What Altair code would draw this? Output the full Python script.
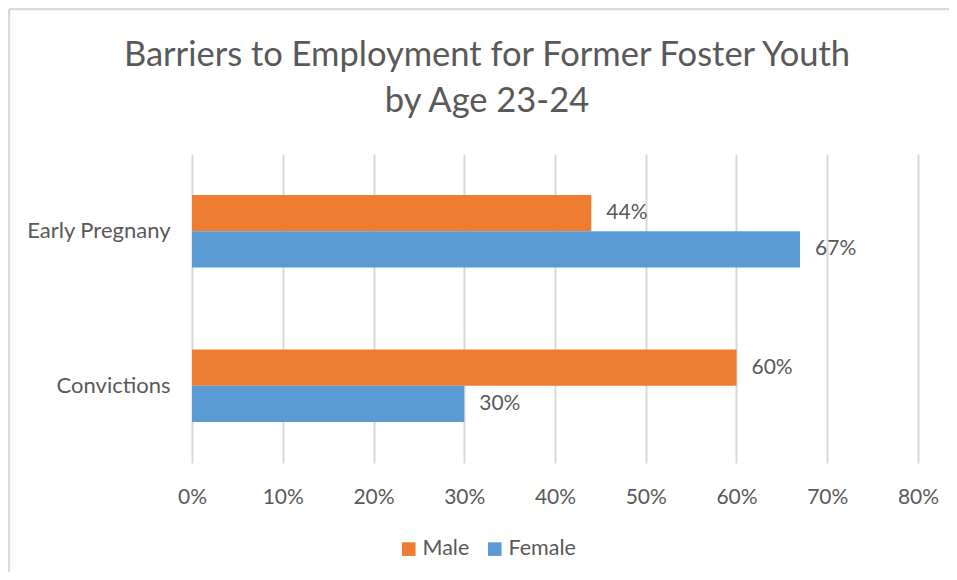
import altair as alt
import pandas as pd

categories = ["Early Pregnany", "Convictions"]
series = ["Male", "Female"]
male = [44, 60]
female = [67, 30]
x_ticks = [0, 0.1, 0.2, 0.3, 0.4, 0.5, 0.6, 0.7, 0.8]
colors = ["#ED7D31", "#5B9BD5"]

rows = []
for i, c in enumerate(categories):
    rows.append({"category": c, "series": "Male", "value": male[i] / 100})
    rows.append({"category": c, "series": "Female", "value": female[i] / 100})
df = pd.DataFrame(rows)

FONT = "Lato"
GRAY = "#595959"

y_enc = alt.Y(
    "category:N",
    sort=categories,
    title=None,
    scale=alt.Scale(paddingInner=0.53, paddingOuter=0.265),
    axis=alt.Axis(
        domain=False, ticks=False, grid=False, labelFontSize=22, labelFont=FONT,
        labelColor=GRAY, labelPadding=22,
    ),
)
yoff_enc = alt.YOffset("series:N", sort=series, scale=alt.Scale(paddingInner=0, paddingOuter=0))
x_enc = alt.X(
    "value:Q",
    title=None,
    scale=alt.Scale(domain=[0, 0.8], nice=False),
    axis=alt.Axis(
        values=x_ticks, format=".0%", domain=False, ticks=False, grid=True,
        gridColor="#d9d9d9", gridWidth=2, labelFontSize=21, labelFont=FONT,
        labelColor=GRAY, labelPadding=23, labelFlush=False,
    ),
)

base = alt.Chart(df)

bars = base.mark_bar().encode(
    y=y_enc,
    yOffset=yoff_enc,
    x=x_enc,
    color=alt.Color(
        "series:N",
        sort=series,
        scale=alt.Scale(domain=series, range=colors),
        legend=alt.Legend(
            title=None, orient="none", legendX=206, legendY=384, direction="horizontal",
            symbolType="square", symbolSize=185, symbolStrokeWidth=0,
            labelFontSize=21.5, labelFont=FONT, labelColor=GRAY, labelOffset=3,
            columnPadding=14,
        ),
    ),
)

labels = base.mark_text(align="left", baseline="middle", dx=15, fontSize=21, font=FONT, color=GRAY).encode(
    y=alt.Y("category:N", sort=categories),
    yOffset=alt.YOffset("series:N", sort=series),
    x="value:Q",
    text=alt.Text("value:Q", format=".0%"),
)

frame_data = alt.Data(values=[{"k": 1}])
left_border = alt.Chart(frame_data).mark_rule(color="#d9d9d9", strokeWidth=2.5).encode(
    x=alt.value(-183), y=alt.value(-145), y2=alt.value(420)
)
top_border = alt.Chart(frame_data).mark_rule(color="#d9d9d9", strokeWidth=2.5).encode(
    y=alt.value(-145), x=alt.value(-183), x2=alt.value(760)
)

chart = alt.layer(bars, labels, left_border, top_border).properties(
    width=726,
    height=309,
    autosize=alt.AutoSizeParams(type="none"),
    padding={"left": 184, "top": 146, "right": 31, "bottom": 109},
    title=alt.Title(
        ["Barriers to Employment for Former Foster Youth", "by Age 23-24"],
        fontSize=34.5, font=FONT, fontWeight="normal", color=GRAY,
        lineHeight=46, anchor="middle", dx=-68, offset=-112,
    ),
).configure_view(stroke=None)

chart.save("out.html", embed_options={"renderer": "svg", "actions": False})
